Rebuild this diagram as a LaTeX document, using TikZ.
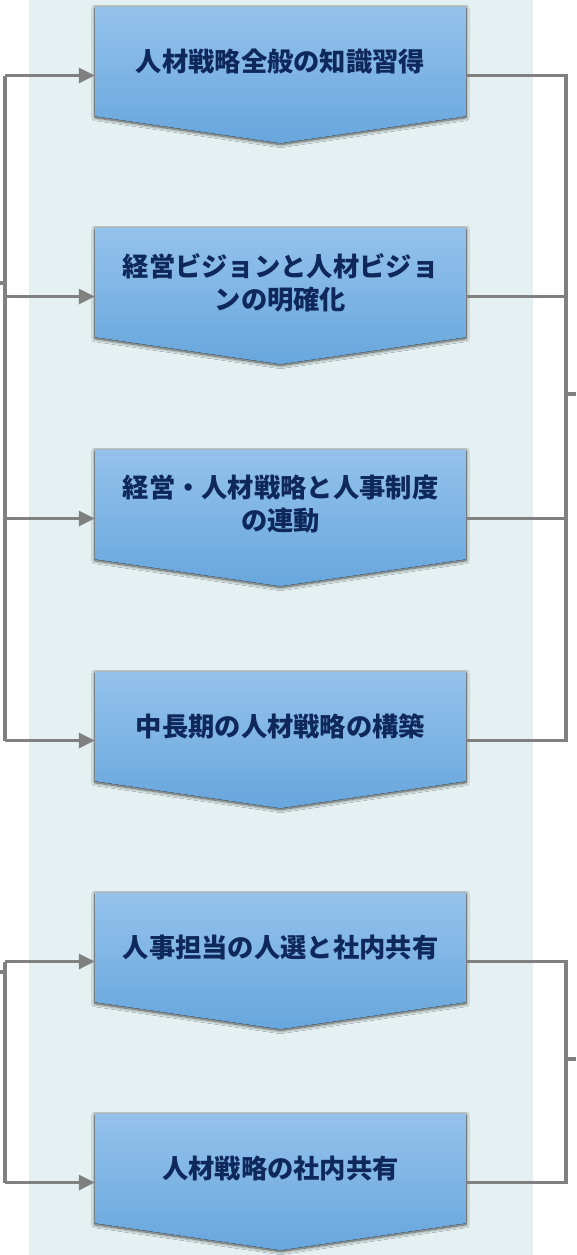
\documentclass[tikz,border=0pt]{standalone}
\usepackage{fontspec}
\setmainfont{Noto Sans CJK JP}
\usetikzlibrary{arrows.meta, calc, backgrounds, shadows.blur}
\definecolor{panelcolor}{RGB}{228,240,241}
\definecolor{boxtop}{RGB}{148,194,236}
\definecolor{boxmid}{RGB}{125,184,236}
\definecolor{boxbot}{RGB}{104,166,220}
\definecolor{labelcolor}{RGB}{15,40,92}
\definecolor{linecolor}{RGB}{128,128,128}
\tikzstyle{stagebox} = [minimum width=371pt, minimum height=109pt, inner sep=0pt, align=center, text=labelcolor, font=\fontsize{26.3}{33}\selectfont\bfseries]
\tikzstyle{chevron} = [top color=boxtop, middle color=boxmid, bottom color=boxbot, blur shadow={shadow xshift=0pt, shadow yshift=-1.5pt, shadow blur radius=3pt, shadow blur steps=8, shadow opacity=70}]
\tikzstyle{link} = [line width=3.2pt, draw=linecolor, line join=miter]
\tikzstyle{arrow} = [link, -{Triangle[length=16pt, width=15pt]}]
\newcommand{\chevronfill}[1]{\fill[chevron] (#1.north west) -- (#1.north east) -- (#1.south east) -- ($(#1.south)+(0,-27pt)$) -- (#1.south west) -- cycle;}

\begin{document}
\begin{tikzpicture}[x=1pt, y=-1pt]
\useasboundingbox (0,0) rectangle (576,1255);

% Steps
\node[stagebox] (know) at (280.5,61.5) {人材戦略全般の知識習得};
\node[stagebox] (vision) at (280.5,282.5) {経営ビジョンと人材ビジョ\\ンの明確化};
\node[stagebox] (link) at (280.5,504.5) {経営・人材戦略と人事制度\\の連動};
\node[stagebox] (build) at (280.5,726.5) {中長期の人材戦略の構築};
\node[stagebox] (select) at (280.5,947.5) {人事担当の人選と社内共有};
\node[stagebox] (share) at (280.5,1168.5) {人材戦略の社内共有};

% Panel and chevrons
\begin{scope}[on background layer]
\fill[panelcolor] (29,0) rectangle (533,1255);
\chevronfill{know}
\chevronfill{vision}
\chevronfill{link}
\chevronfill{build}
\chevronfill{select}
\chevronfill{share}
\end{scope}

% Bus lines
\coordinate (lbus) at (5,0);
\coordinate (rbus) at (566,0);
\coordinate (ltick1) at (0,283);
\coordinate (ltick2) at (0,972);
\coordinate (rtick1) at (576,394);
\coordinate (rtick2) at (576,1059);

% Upper group
\draw[arrow] ([yshift=-14pt]know.west -| lbus) -- ([yshift=-14pt]know.west);
\draw[arrow] ([yshift=-14pt]vision.west -| lbus) -- ([yshift=-14pt]vision.west);
\draw[arrow] ([yshift=-14pt]link.west -| lbus) -- ([yshift=-14pt]link.west);
\draw[arrow] ([yshift=-14pt]build.west -| lbus) -- ([yshift=-14pt]build.west);
\draw[link] ([yshift=-14pt]know.west -| lbus) -- ([yshift=-14pt]build.west -| lbus);
\draw[link] (ltick1) -- (lbus |- ltick1);

\draw[link] ([yshift=-14pt]know.east) -- ([yshift=-14pt]know.east -| rbus) -- ([yshift=-14pt]build.east -| rbus) -- ([yshift=-14pt]build.east);
\draw[link] ([yshift=-14pt]vision.east) -- ([yshift=-14pt]vision.east -| rbus);
\draw[link] ([yshift=-14pt]link.east) -- ([yshift=-14pt]link.east -| rbus);
\draw[link] (rbus |- rtick1) -- (rtick1);

% Lower group
\draw[arrow] ([yshift=-14pt]select.west -| lbus) -- ([yshift=-14pt]select.west);
\draw[arrow] ([yshift=-14pt]share.west -| lbus) -- ([yshift=-14pt]share.west);
\draw[link] ([yshift=-14pt]select.west -| lbus) -- ([yshift=-14pt]share.west -| lbus);
\draw[link] (ltick2) -- (lbus |- ltick2);

\draw[link] ([yshift=-14pt]select.east) -- ([yshift=-14pt]select.east -| rbus) -- ([yshift=-14pt]share.east -| rbus) -- ([yshift=-14pt]share.east);
\draw[link] (rbus |- rtick2) -- (rtick2);

\end{tikzpicture}
\end{document}
